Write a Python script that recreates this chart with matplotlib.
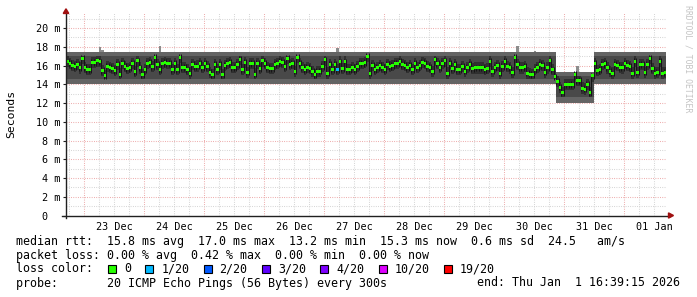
import numpy as np
import pandas as pd
import matplotlib
matplotlib.use('Agg')
import matplotlib.pyplot as plt
from matplotlib.patches import Rectangle, Polygon

plt.rcParams['font.family'] = ['DejaVu Sans Mono']

# ----------------------------
# data (1 hour steps, 10 days)
# ----------------------------
end_time = pd.Timestamp('2026-01-01 16:39:15')
start_time = end_time - pd.Timedelta(days=10)

median_ms = [
    16.4, 16.2, 16.0, 15.9, 16.1, 15.75, 16.8, 15.8, 15.6, 15.6,
    16.3, 16.3, 16.5, 16.4, 15.5, 14.95, 15.9, 15.8, 15.65, 15.45,
    16.1, 15.1, 16.25, 15.9, 15.65, 15.8, 16.2, 15.35, 16.5, 15.75,
    15.0, 15.55, 16.2, 16.35, 15.9, 16.9, 16.1, 15.55, 16.2, 16.35,
    16.25, 16.25, 15.55, 16.2, 15.55, 16.9, 15.8, 15.8, 15.55, 15.2,
    16.1, 15.9, 15.95, 16.2, 15.8, 16.2, 15.9, 15.3, 15.05, 16.1,
    15.55, 16.1, 15.0, 16.0, 16.2, 16.35, 15.8, 15.8, 16.1, 16.65,
    15.55, 16.35, 15.3, 16.2, 16.25, 15.1, 16.25, 15.65, 16.5, 16.2,
    15.8, 15.65, 15.65, 16.1, 16.2, 16.45, 16.35, 15.9, 16.8, 16.1,
    16.25, 15.4, 16.9, 16.25, 15.8, 15.55, 15.8, 15.65, 15.4, 15.05,
    15.4, 15.4, 15.9, 16.6, 15.2, 16.1, 15.55, 16.1, 15.55, 16.4,
    15.65, 16.4, 15.55, 15.55, 15.8, 15.55, 15.9, 16.25, 16.25, 16.35,
    16.95, 15.2, 16.0, 15.55, 15.8, 16.0, 15.8, 15.55, 16.1, 15.9,
    16.0, 16.2, 16.25, 16.45, 16.1, 16.0, 15.8, 16.0, 15.55, 16.25,
    15.8, 16.0, 16.35, 16.2, 15.9, 15.8, 15.4, 16.6, 16.25, 15.8,
    16.2, 16.5, 15.2, 16.25, 15.65, 16.1, 15.55, 15.55, 15.9, 15.4,
    15.8, 16.1, 15.65, 15.75, 15.75, 15.75, 15.75, 15.55, 15.65, 16.45,
    15.4, 15.8, 16.0, 15.2, 15.9, 16.45, 15.9, 15.75, 15.3, 16.85,
    16.1, 15.75, 15.75, 15.9, 15.2, 15.1, 15.0, 15.55, 15.8, 16.1,
    16.0, 15.3, 15.75, 16.5, 15.55, 14.8, 14.3, 13.7, 13.15, 13.95,
    13.95, 13.95, 14.0, 15.1, 14.4, 14.4, 13.6, 13.5, 14.0, 13.15,
    14.9, 16.25, 15.45, 15.6, 16.1, 16.2, 15.75, 15.4, 15.2, 16.1,
    16.0, 15.8, 15.75, 16.2, 16.0, 15.9, 15.2, 16.45, 15.3, 16.1,
    16.1, 15.3, 16.1, 16.8, 15.65, 15.2, 15.3, 16.45, 15.2, 15.3,
]

# lost pings per step (out of 20)
loss_count = [0] * 240
loss_count[108] = 1

# smoke envelope (ms)
smoke_hi = [17.45] * 196 + [15.3] * 15 + [17.45] * 29
smoke_lo = [14.05] * 196 + [12.05] * 15 + [14.05] * 29
smoke_max = list(smoke_hi)
for i, v in {13: 18.0, 14: 17.7, 37: 18.1, 108: 17.9, 180: 18.1, 187: 17.6, 204: 16.0}.items():
    smoke_max[i] = v

loss_colors = {0: '#26ff00', 1: '#00b8ff', 2: '#0059ff', 3: '#5e00ff',
               4: '#7e00ff', 10: '#dd00ff', 19: '#ff0000'}
loss_labels = ['0', '1/20', '2/20', '3/20', '4/20', '10/20', '19/20']

# ----------------------------
# figure
# ----------------------------
W, H = 697, 297
fig = plt.figure(figsize=(W / 100, H / 100), dpi=100)
fig.patch.set_facecolor('white')

y0_px, px_per_ms, top_px = 215.5, 9.37, 13.0
ax = fig.add_axes([66 / W, (H - y0_px) / H, 600 / W, (y0_px - top_px) / H])
ymax = (y0_px - top_px) / px_per_ms
n = len(median_ms)
ax.set_xlim(0, n)
ax.set_ylim(0, ymax)
for s in ax.spines.values():
    s.set_visible(False)

hours_to_midnight = (start_time.normalize() + pd.Timedelta(days=1) - start_time) / pd.Timedelta(hours=1)

# grid
dot = (0, (0.8, 1.4))
for h in np.arange(hours_to_midnight - 18, n, 6):
    if h <= 0:
        continue
    is_major = abs((h - hours_to_midnight) % 24) < 1e-6
    ax.axvline(h, color='#eba0a0' if is_major else '#cfcfcf', lw=0.75, ls=dot, zorder=0.5)
for v in range(1, 22):
    ax.axhline(v, color='#eba0a0' if v % 2 == 0 else '#cfcfcf', lw=0.75, ls=dot, zorder=0.5)

# smoke
steps = np.arange(n)
med = np.array(median_ms)
hi = np.array(smoke_hi)
lo = np.array(smoke_lo)
top = np.array(smoke_max)
ax.bar(steps, top - lo, bottom=lo, width=1, align='edge', color='#8c8c8c', lw=0, zorder=2)
ax.bar(steps, hi - lo, bottom=lo, width=1, align='edge', color='#646464', lw=0, zorder=2)
ax.bar(steps, (hi - 0.45) - (lo + 0.55), bottom=lo + 0.55, width=1, align='edge',
       color='#494949', lw=0, zorder=2)
core_lo = np.maximum(med - 0.6, lo + 0.55)
core_hi = np.minimum(med + 0.6, hi - 0.45)
ax.bar(steps, core_hi - core_lo, bottom=core_lo, width=1, align='edge',
       color='#303030', lw=0, zorder=2)
ax.vlines(steps[1:], np.minimum(med[:-1], med[1:]) - 0.35, np.maximum(med[:-1], med[1:]) + 0.35,
          color='#151515', lw=0.7, zorder=2.5)

# median
ax.bar(steps, 0.32, bottom=med - 0.16, width=1, align='edge',
       color=[loss_colors[c] for c in loss_count], lw=0, zorder=3)

# axes with arrows
ax.plot([-1.6, n + 1.6], [0, 0], color='#202020', lw=1, clip_on=False, zorder=4)
ax.plot([0, 0], [-0.25, ymax], color='#202020', lw=1, clip_on=False, zorder=4)
arrow_c = '#a01010'
ax.add_patch(Polygon([[-1.1, ymax - 0.05], [1.1, ymax - 0.05], [0, ymax + 0.45]],
                     closed=True, color=arrow_c, clip_on=False, zorder=5))
ax.add_patch(Polygon([[n + 1.0, -0.28], [n + 1.0, 0.28], [n + 3.0, 0]],
                     closed=True, color=arrow_c, clip_on=False, zorder=5))

# ticks
yt = list(range(0, 21, 2))
ax.set_yticks(yt)
ax.set_yticklabels(['0  '] + [f'{v} m' for v in yt[1:]])
days = pd.date_range(start_time.normalize() + pd.Timedelta(days=1), periods=10, freq='D')
ax.set_xticks([hours_to_midnight + 12 + 24 * k for k in range(10)])
ax.set_xticklabels([d.strftime('%d %b') for d in days])
ax.tick_params(axis='x', length=0, pad=4.5, labelsize=7.3, colors='#000000')
ax.tick_params(axis='y', length=2.5, width=0.8, pad=1.5, labelsize=7.3, color='#202020')

fs = 8.4
fig.text(11 / W, 1 - 114 / H, 'Seconds', rotation=90, ha='center', va='center', fontsize=8.2)
fig.text(688 / W, 1 - 5 / H, 'RRDTOOL / TOBI OETIKER', rotation=270, ha='center', va='top',
         fontsize=5.9, color='#c4c4c4')

def row(y):
    return 1 - y / H

fig.text(16 / W, row(241), 'median rtt:  15.8 ms avg  17.0 ms max  13.2 ms min  15.3 ms now  0.6 ms sd  24.5   am/s',
         ha='left', va='center', fontsize=fs)
fig.text(16 / W, row(255), 'packet loss: 0.00 % avg  0.42 % max  0.00 % min  0.00 % now',
         ha='left', va='center', fontsize=fs)
fig.text(16 / W, row(269), 'loss color:', ha='left', va='center', fontsize=fs)
fig.text(16 / W, row(283), 'probe:       20 ICMP Echo Pings (56 Bytes) every 300s',
         ha='left', va='center', fontsize=fs)
fig.text(680 / W, row(283), 'end: Thu Jan  1 16:39:15 2026', ha='right', va='center', fontsize=fs)

bx = 108
for lab, key in zip(loss_labels, [0, 1, 2, 3, 4, 10, 19]):
    fig.add_artist(Rectangle((bx / W, (H - 273) / H), 8 / W, 8 / H, transform=fig.transFigure,
                             facecolor=loss_colors[key], edgecolor='black', lw=0.8))
    fig.text((bx + 16) / W, row(269), lab, ha='left', va='center', fontsize=fs)
    bx += 16 + 7.03 * len(lab) + 14.2

fig.savefig('out.png', dpi=100)
